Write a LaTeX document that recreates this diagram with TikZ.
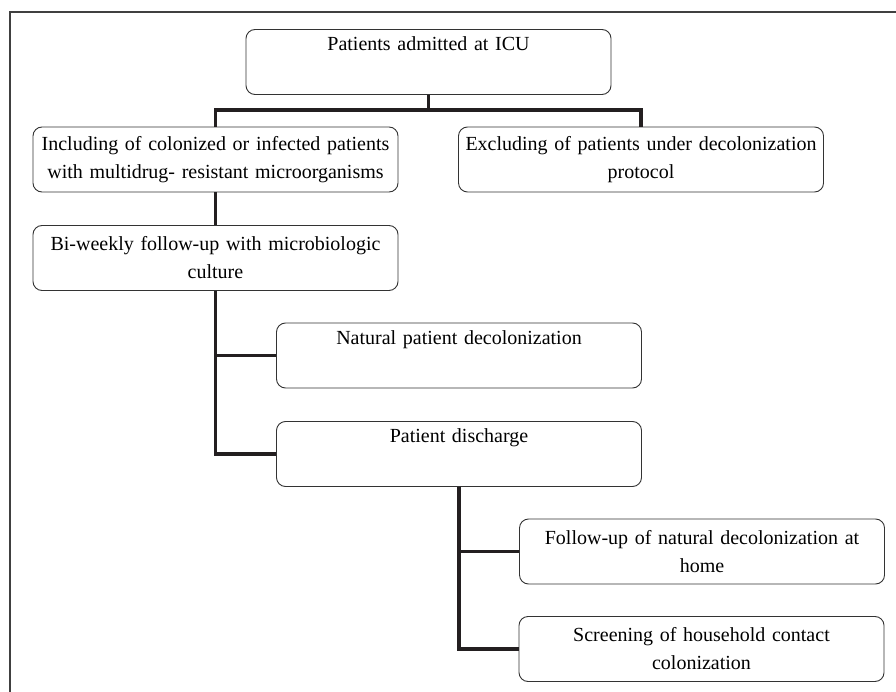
\documentclass[tikz,border=0pt]{standalone}
\usepackage{fontspec}
\setmainfont{Liberation Serif}
\usepackage{tikz}
\definecolor{linkcol}{RGB}{35,31,32}

\begin{document}
\begin{tikzpicture}[
x=1pt, y=-1pt,
font=\fontsize{20}{28}\selectfont,
box/.style={draw=black!80, line width=0.9pt, rounded corners=9pt, align=center, text width=362pt, minimum width=365pt, minimum height=65pt, inner sep=1.5pt},
link/.style={draw=linkcol, line width=3.4pt},
frame/.style={draw=black!75, line width=1.2pt}
]
\useasboundingbox (0,0) rectangle (896,692);
\draw[frame] (10,692) -- (10,12) -- (896,12);

\node[box] (adm) at (428.5,62) {Patients admitted at ICU\hspace*{46pt}\\\strut};
\node[box] (inc) at (215.5,159.5) {Including of colonized or infected patients\\with multidrug- resistant microorganisms};
\node[box] (exc) at (641,159.5) {Excluding of patients under decolonization\\protocol};
\node[box] (bi) at (215.5,258) {Bi-weekly follow-up with microbiologic\\culture};
\node[box] (nat) at (459,355.5) {Natural patient decolonization\\\strut};
\node[box] (dis) at (459,454) {Patient discharge\\\strut};
\node[box] (home) at (702,551.5) {Follow-up of natural decolonization at\\home};
\node[box] (hh) at (701.5,649) {Screening of household contact\\colonization};

\coordinate (split) at (428.5,110);
\draw[link] (adm) -- (split);
\draw[link] (inc.north) |- (split) -| (exc.north);
\draw[link] (inc) -- (bi);
\draw[link] (bi.south) |- (nat.west);
\draw[link] (bi.south) |- (dis.west);
\draw[link] (dis.south) |- (home.west);
\draw[link] (dis.south) |- (hh.west);
\end{tikzpicture}
\end{document}
